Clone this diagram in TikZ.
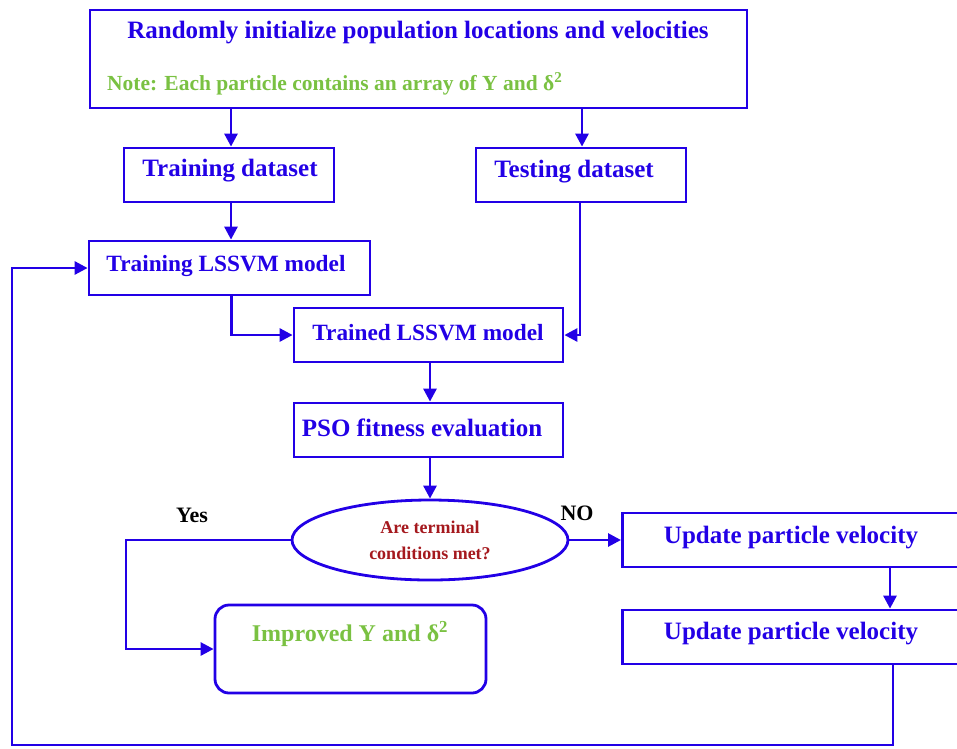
\documentclass[tikz,border=0pt]{standalone}
\usepackage{fontspec}
\setmainfont{Liberation Serif}
\usetikzlibrary{arrows.meta,shapes.geometric}
\definecolor{fblue}{RGB}{34,0,230}
\definecolor{fgreen}{RGB}{122,193,66}
\definecolor{fred}{RGB}{165,25,30}
\tikzset{
  box/.style={draw=fblue,line width=2.8pt,rectangle,inner sep=0pt},
  btxt/.style={text=fblue,font=\fontsize{25}{28}\selectfont\bfseries,inner sep=0pt},
  stxt/.style={btxt,font=\fontsize{23.3}{28}\selectfont\bfseries},
  gtxt/.style={text=fgreen,font=\fontsize{21.5}{24}\selectfont\bfseries,inner sep=0pt},
  conn/.style={draw=fblue,line width=2.8pt},
  arr/.style={conn,-{Triangle[length=13pt,width=13pt]}},
  lbl/.style={text=black,font=\fontsize{22}{24}\selectfont\bfseries,inner sep=0pt}
}
\begin{document}
\begin{tikzpicture}[x=1pt,y=-1pt]
\useasboundingbox (0,0) rectangle (957,748);
% top box
\node[box,minimum width=657pt,minimum height=98pt] (top) at (418.5,59) {};
\node[btxt] (toptxt) at (418,33) {Randomly initialize population locations and velocities};
\node[gtxt,anchor=west] (note) at (107,84) {Note: Each particle contains an array of Y and δ\textsuperscript{2}};
% datasets
\node[box,minimum width=210pt,minimum height=54pt] (train) at (229,175) {};
\node[btxt] at (230,171) {Training dataset};
\node[box,minimum width=210pt,minimum height=54pt] (test) at (581,175) {};
\node[btxt] at (574,172) {Testing dataset};
% models
\node[box,minimum width=281pt,minimum height=54pt] (tlssvm) at (229.5,268) {};
\node[stxt] at (226,266) {Training LSSVM model};
\node[box,minimum width=269pt,minimum height=54pt] (trained) at (428.5,335) {};
\node[stxt] at (428,333) {Trained LSSVM model};
\node[box,minimum width=269pt,minimum height=54pt] (pso) at (428.5,430) {};
\node[btxt] at (422,428) {PSO fitness evaluation};
% decision
\node[draw=fblue,line width=2.8pt,ellipse,minimum width=276pt,minimum height=80pt,inner sep=0pt,
      text=fred,font=\fontsize{18}{26}\selectfont\bfseries,align=center] (dec) at (430,540)
      {Are terminal\\conditions met?};
% updates
\node[box,minimum width=340pt,minimum height=54pt,anchor=west] (up1) at (621,540) {};
\node[btxt] at (791,538) {Update particle velocity};
\node[box,minimum width=340pt,minimum height=54pt,anchor=west] (up2) at (621,637) {};
\node[btxt] at (791,634) {Update particle velocity};
% improved
\node[draw=fblue,line width=2.8pt,rounded corners=14pt,minimum width=271pt,minimum height=88pt,inner sep=0pt] (imp) at (350.5,649) {};
\node[gtxt,font=\fontsize{24}{26}\selectfont\bfseries] at (350,634) {Improved Y and δ\textsuperscript{2}};
% labels
\node[lbl] (yes) at (192,515) {Yes};
\node[lbl] (no) at (577,513) {NO};
% connectors
\draw[arr] (top.south -| train.north) ++(2,0) coordinate (a1) -- (a1 |- train.north);
\draw[arr] (top.south -| test.north) ++(1,0) coordinate (a2) -- (a2 |- test.north);
\draw[arr] (train.south) ++(2,0) coordinate (a3) -- (a3 |- tlssvm.north);
\draw[arr] (tlssvm.south) ++(2,0) coordinate (a4) -- (a4 |- trained.west) -- (trained.west);
\draw[arr] (test.south) ++(-1,0) coordinate (a5) -- (a5 |- trained.east) -- (trained.east);
\draw[arr] (trained.south) ++(1.5,0) coordinate (a6) -- (a6 |- pso.north);
\draw[arr] (pso.south) ++(1.5,0) coordinate (a7) -- (a7 |- dec.north);
\draw[arr] (dec.east) -- (up1.west);
\coordinate (c1) at (126,540);
\draw[arr] (dec.west) -- (c1) -- (c1 |- imp.west) -- (imp.west);
\coordinate (c2) at (890,567);
\draw[arr] (c2) -- (c2 |- up2.north);
\coordinate (c3) at (893,664);
\coordinate (c4) at (12,745);
\draw[arr] (c3) -- (c3 |- c4) -- (c4) -- (c4 |- tlssvm.west) -- (tlssvm.west);
\end{tikzpicture}
\end{document}
